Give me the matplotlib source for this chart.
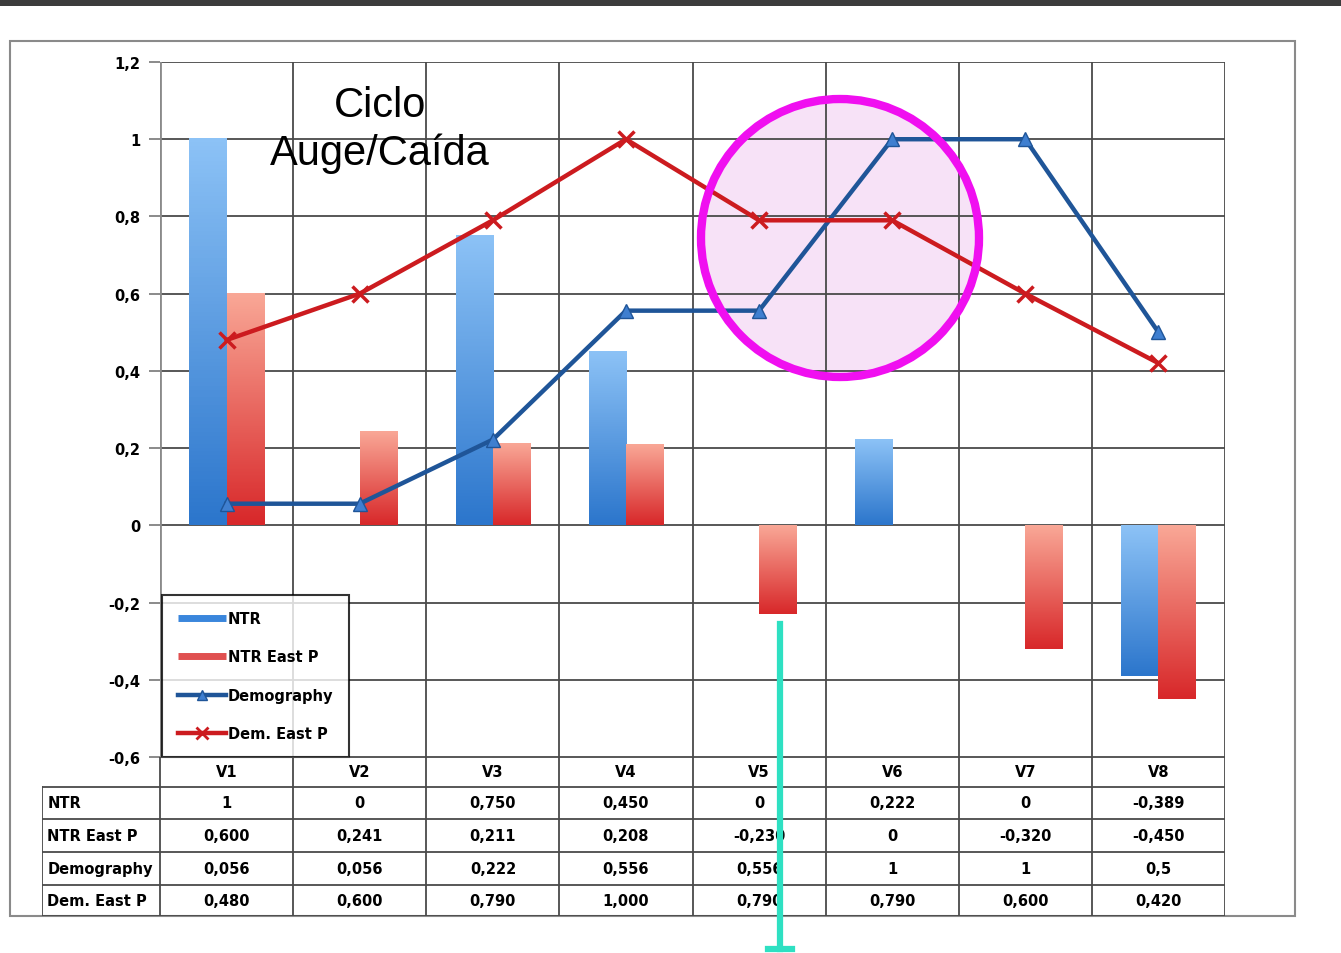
import numpy as np
import matplotlib
matplotlib.use("Agg")
import matplotlib.pyplot as plt
from matplotlib.lines import Line2D
from matplotlib.patches import Rectangle, Ellipse
from matplotlib.colors import LinearSegmentedColormap

categories = ["V1", "V2", "V3", "V4", "V5", "V6", "V7", "V8"]
ntr = [1, 0, 0.750, 0.450, 0, 0.222, 0, -0.389]
ntr_east = [0.600, 0.241, 0.211, 0.208, -0.230, 0, -0.320, -0.450]
demography = [0.056, 0.056, 0.222, 0.556, 0.556, 1, 1, 0.5]
dem_east = [0.480, 0.600, 0.790, 1.000, 0.790, 0.790, 0.600, 0.420]

row_names = ["NTR", "NTR East P", "Demography", "Dem. East P"]
row_text = [
    ["1", "0", "0,750", "0,450", "0", "0,222", "0", "-0,389"],
    ["0,600", "0,241", "0,211", "0,208", "-0,230", "0", "-0,320", "-0,450"],
    ["0,056", "0,056", "0,222", "0,556", "0,556", "1", "1", "0,5"],
    ["0,480", "0,600", "0,790", "1,000", "0,790", "0,790", "0,600", "0,420"],
]
yticks = [-0.6, -0.4, -0.2, 0, 0.2, 0.4, 0.6, 0.8, 1.0, 1.2]
ytick_labels = ["-0,6", "-0,4", "-0,2", "0", "0,2", "0,4", "0,6", "0,8", "1", "1,2"]

W, H = 1341, 954
fig = plt.figure(figsize=(W / 100, H / 100), dpi=100)
fig.patch.set_facecolor("white")


def fx(px):
    return px / W


def fy(py):
    return 1 - py / H


# outer chart frame and dark band at the top
fig.patches.append(Rectangle((0, fy(7)), 1, 7 / H, transform=fig.transFigure,
                             facecolor="#3c3c3c", edgecolor="none", zorder=-2))
fig.patches.append(Rectangle((fx(10), fy(917)), fx(1295) - fx(10), fy(42) - fy(917),
                             transform=fig.transFigure, facecolor="none",
                             edgecolor="#8a8a8a", lw=1.5, zorder=-2))

# highlight circle: fill under the chart, ring above it
r = 139
cx, cy = fx(840), fy(239)
fig.patches.append(Ellipse((cx, cy), 2 * r / W, 2 * r / H, transform=fig.transFigure,
                           facecolor="#f7e2f7", edgecolor="none", zorder=-1))

# main plot area
ax = fig.add_axes([fx(160), fy(758), fx(1225) - fx(160), fy(63) - fy(758)])
ax.patch.set_alpha(0)
x = np.arange(len(categories))
bw = 0.28

blue_cm = LinearSegmentedColormap.from_list("b", ["#8cc2f6", "#2c76cc"])
red_cm = LinearSegmentedColormap.from_list("r", ["#f9a796", "#d8282a"])
grad = np.linspace(0, 1, 100).reshape(-1, 1)

for vals, off, cm in [(ntr, -bw / 2, blue_cm), (ntr_east, bw / 2, red_cm)]:
    bars = ax.bar(x + off, vals, width=bw, color="none", edgecolor="none", zorder=2)
    for b, v in zip(bars, vals):
        if v == 0:
            continue
        x0 = b.get_x()
        top, bot = max(v, 0), min(v, 0)
        ax.imshow(grad, extent=[x0, x0 + bw, bot, top], origin="upper",
                  aspect="auto", cmap=cm, zorder=2)

ax.plot(x, demography, color="#1f5598", lw=3.2, marker="^", ms=10,
        markerfacecolor="#3f7fd0", markeredgecolor="#1f5598", zorder=4)
ax.plot(x, dem_east, color="#cc1b1f", lw=3.2, marker="x", ms=11, mew=2.5,
        zorder=5)

ax.set_xlim(-0.5, 7.5)
ax.set_ylim(-0.6, 1.2)
for yv in yticks:
    ax.axhline(yv, color="#4a4a4a", lw=1.3, zorder=1)
for xv in np.arange(-0.5, 8, 1):
    ax.axvline(xv, color="#4a4a4a", lw=1.3, zorder=1)
for s in ax.spines.values():
    s.set_visible(False)
ax.set_xticks([])
ax.set_yticks(yticks)
ax.set_yticklabels(ytick_labels, fontsize=10.5, fontweight="bold")
ax.tick_params(axis="y", length=8, width=1.2, color="#777777", pad=6)
ax.axvline(-0.5, color="#8a8a8a", lw=2, zorder=1)

# legend
handles = [
    Line2D([], [], color="#3a86dc", lw=5, solid_capstyle="butt"),
    Line2D([], [], color="#e05050", lw=5, solid_capstyle="butt"),
    Line2D([], [], color="#1f5598", lw=3.2, marker="^", ms=7,
           markerfacecolor="#3f7fd0"),
    Line2D([], [], color="#cc1b1f", lw=3.2, marker="x", ms=8, mew=2),
]
leg = ax.legend(handles, ["NTR", "NTR East P", "Demography", "Dem. East P"],
                loc="lower left", bbox_to_anchor=(fx(162), fy(758)),
                bbox_transform=fig.transFigure, frameon=True, fancybox=False,
                prop={"weight": "bold", "size": 10.5}, handlelength=3.3,
                handletextpad=0.1, labelspacing=1.6, borderpad=1.1,
                borderaxespad=0)
leg.get_frame().set_edgecolor("black")
leg.get_frame().set_linewidth(1.5)
leg.set_zorder(6)

# data table under the plot
tax = fig.add_axes([fx(42), fy(917), fx(1225) - fx(42), fy(758) - fy(917)])
tax.set_xlim(-0.5 - 118 / 133, 7.5)
tax.set_ylim(159, 0)
tax.axis("off")
left = -0.5 - 118 / 133
rows = [0, 30, 62, 95, 128, 159]
tax.plot([-0.5, 7.5], [0, 0], color="#4a4a4a", lw=1.3)
for rr in rows[1:]:
    tax.plot([left, 7.5], [rr, rr], color="#4a4a4a", lw=1.3)
for xv in np.arange(-0.5, 8, 1):
    tax.plot([xv, xv], [0, 159], color="#4a4a4a", lw=1.3)
tax.plot([left, left], [30, 159], color="#4a4a4a", lw=1.3)

for i, c in enumerate(categories):
    tax.text(i, 15, c, ha="center", va="center", fontsize=10.5, fontweight="bold")
for j, name in enumerate(row_names):
    yc = (rows[j + 1] + rows[j + 2]) / 2
    tax.text(left + 0.04, yc, name, ha="left", va="center", fontsize=10.5,
             fontweight="bold")
    for i, t in enumerate(row_text[j]):
        tax.text(i, yc, t, ha="center", va="center", fontsize=10.5,
                 fontweight="bold")

# annotations
fig.text(fx(380), fy(130), "Ciclo\nAuge/Caída", ha="center", va="center",
         fontsize=30, family="Liberation Sans", linespacing=1.25, zorder=7)

fig.patches.append(Ellipse((cx, cy), 2 * r / W, 2 * r / H, transform=fig.transFigure,
                           facecolor="none", edgecolor="#f00ff0", lw=6, zorder=8))

teal = "#2ee0c2"
fig.lines.append(Line2D([fx(780), fx(780)], [fy(625), fy(950)],
                        transform=fig.transFigure, color=teal, lw=4.5, zorder=9))
fig.lines.append(Line2D([fx(768), fx(792)], [fy(950), fy(950)],
                        transform=fig.transFigure, color=teal, lw=4.5, zorder=9))

fig.savefig("out.png", dpi=100)
